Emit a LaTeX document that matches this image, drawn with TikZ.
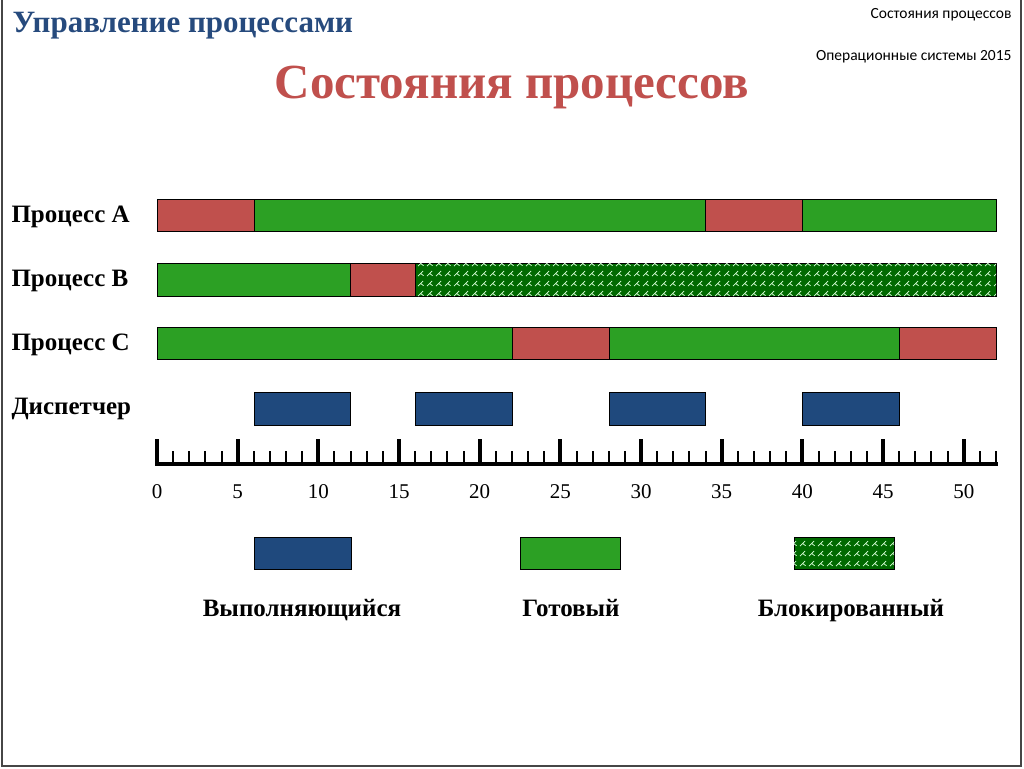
\documentclass[tikz,border=0pt]{standalone}
\usepackage{fontspec}
\setmainfont{Liberation Serif}
\newfontfamily\calibri{Carlito}
\usetikzlibrary{patterns}
\definecolor{runblue}{RGB}{31,73,125}
\definecolor{readygreen}{RGB}{44,160,36}
\definecolor{activered}{RGB}{192,80,77}
\definecolor{blockgreen}{RGB}{0,105,0}
\definecolor{headblue}{RGB}{38,74,125}
\definecolor{framegray}{RGB}{70,70,70}

% small tick marks for the blocked state
\pgfdeclarepatternformonly{blockmarks}{\pgfpointorigin}{\pgfqpoint{8.5pt}{10pt}}{\pgfqpoint{8.5pt}{10pt}}{
  \pgfsetlinewidth{0.8pt}
  \pgfpathmoveto{\pgfqpoint{1pt}{2pt}}\pgfpathlineto{\pgfqpoint{6.5pt}{7.5pt}}
  \pgfpathmoveto{\pgfqpoint{3.5pt}{5pt}}\pgfpathlineto{\pgfqpoint{7pt}{2.5pt}}
  \pgfusepath{stroke}
}

\tikzset{
  running/.style={draw=black, fill=runblue},
  ready/.style={draw=black, fill=readygreen},
  active/.style={draw=black, fill=activered},
  blocked/.style={draw=black, fill=blockgreen,
    postaction={pattern=blockmarks, pattern color=white!85!green}},
  rowlabel/.style={anchor=base west, font=\bfseries\fontsize{25}{28}\selectfont},
  ticklabel/.style={font=\fontsize{21}{24}\selectfont},
  legendlabel/.style={anchor=base, font=\bfseries\fontsize{25}{28}\selectfont},
  legendbox/.style={minimum width=100pt, minimum height=32pt, inner sep=0pt},
}

\begin{document}
\begin{tikzpicture}[x=1pt, y=-1pt]
  \useasboundingbox (0,0) rectangle (1024,768);
  \draw[framegray, line width=2pt] (2,-2) -- (2,766) -- (1021,766) -- (1021,-2);

  % headings
  \node[anchor=base west, text=headblue, font=\bfseries\fontsize{31}{34}\selectfont] (section) at (9,33) {Управление процессами};
  \node[anchor=base, text=activered, font=\bfseries\fontsize{49}{54}\selectfont] (title) at (512,98) {Состояния процессов};
  \node[anchor=east, font=\calibri\fontsize{15.5}{18}\selectfont] (topic) at (1015,15) {Состояния процессов};
  \node[anchor=east, font=\calibri\fontsize{15.5}{18}\selectfont] (course) at (1015,57) {Операционные системы 2015};

  % row labels
  \node[rowlabel] (procA) at (8,222) {Процесс A};
  \node[rowlabel] (procB) at (8,286) {Процесс B};
  \node[rowlabel] (procC) at (8,350) {Процесс C};
  \node[rowlabel] (disp) at (8,414) {Диспетчер};

  % time axis: one unit per time step
  \begin{scope}[xshift=157pt, x=16.135pt]
    \foreach \s/\e/\st in {0/6/active, 6/34/ready, 34/40/active, 40/52/ready}
      \draw[\st] (\s,199) rectangle (\e,231);
    \foreach \s/\e/\st in {0/12/ready, 12/16/active, 16/52/blocked}
      \draw[\st] (\s,263) rectangle (\e,296);
    \foreach \s/\e/\st in {0/22/ready, 22/28/active, 28/46/ready, 46/52/active}
      \draw[\st] (\s,327) rectangle (\e,359);
    \foreach \s in {6,16,28,40}
      \draw[running] (\s,392) rectangle (\s+6,425);

    \draw[line width=4pt] (-0.12,463.5) -- (52.12,463.5);
    \foreach \t in {0,...,52}
      \draw[line width=2pt] (\t,451) -- (\t,463);
    \foreach \t in {0,5,...,50} {
      \draw[line width=4pt] (\t,439) -- (\t,463);
      \node[ticklabel] (t\t) at (\t,492) {\t};
    }
  \end{scope}

  % legend
  \node[running, legendbox, minimum width=97pt] (legrun) at (302.5,553) {};
  \node[ready, legendbox] (legready) at (570,553) {};
  \node[blocked, legendbox] (legblock) at (844,553) {};
  \node[legendlabel] (labrun) at (302,616) {Выполняющийся};
  \node[legendlabel] (labready) at (571,616) {Готовый};
  \node[legendlabel] (labblock) at (851,616) {Блокированный};
\end{tikzpicture}
\end{document}
